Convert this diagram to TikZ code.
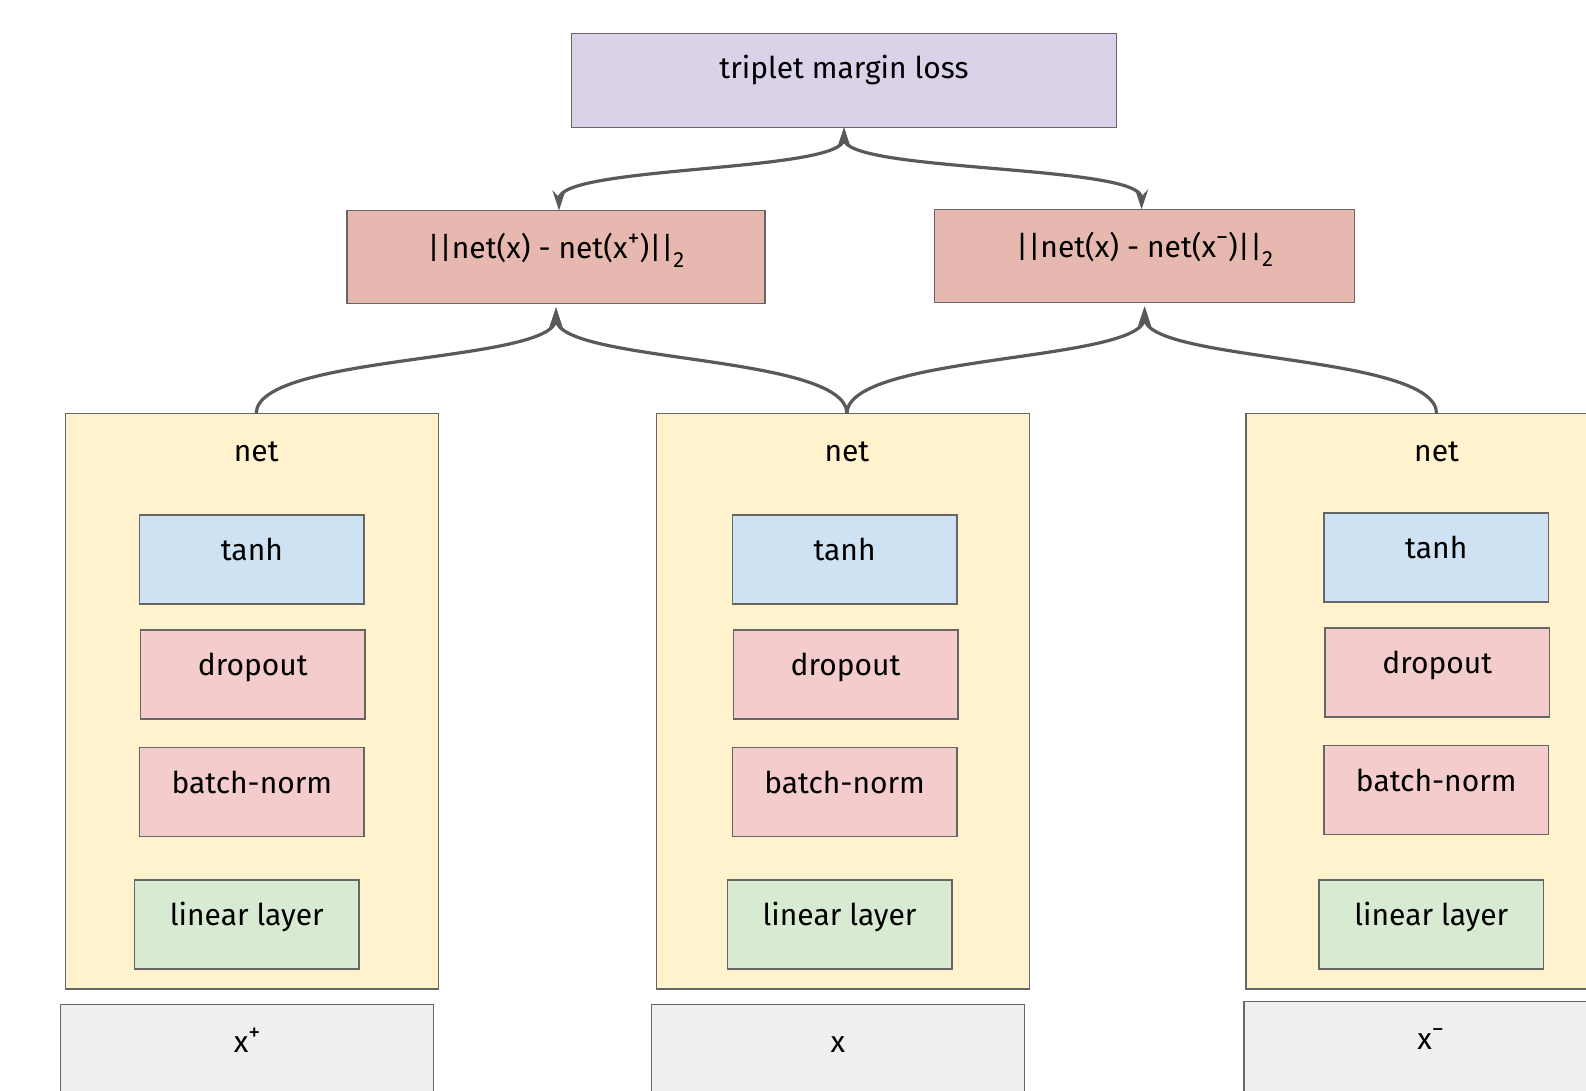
\documentclass[tikz,border=0pt]{standalone}
\usepackage{fontspec}
\setmainfont{Fira Sans}
\usetikzlibrary{arrows.meta,calc}
\definecolor{cPurple}{HTML}{D9D2E9}
\definecolor{cDist}{HTML}{E6B8AF}
\definecolor{cNet}{HTML}{FFF2CC}
\definecolor{cTanh}{HTML}{CFE2F3}
\definecolor{cPink}{HTML}{F4CCCC}
\definecolor{cLin}{HTML}{D9EAD3}
\definecolor{cIn}{HTML}{EFEFEF}
\definecolor{cBorder}{HTML}{666666}
\definecolor{cArrow}{HTML}{595959}
\newcommand\mkbox[7]{%
  \node[box, fill=#2, minimum width=#5, minimum height=#6] (#1) at (#3,#4) {};
  \node[lbl] (#1t) at ($(#1.north)+(0,38)$) {#7};}
\newcommand\mysup[1]{\raisebox{0.42em}{\fontsize{24}{26}\selectfont #1}}
\newcommand\mysub[1]{\raisebox{-0.3em}{\fontsize{22}{24}\selectfont #1}}
\begin{document}
\begin{tikzpicture}[x=1pt,y=-1pt,
  box/.style={draw=cBorder, line width=1.5pt, inner sep=0pt, outer sep=0pt, anchor=north west},
  lbl/.style={font=\fontsize{30}{36}\selectfont, text=black, inner sep=0pt, anchor=center, text height=21pt, text depth=6pt},
  conn/.style={draw=cArrow, line width=3.2pt},
  mytip/.tip={Stealth[length=20pt,width=13pt,inset=7pt]}]
\useasboundingbox (0,0) rectangle (1586,1091);
\clip (0,0) rectangle (1586,1091);
\fill[white] (0,0) rectangle (1586,1091);
% top loss
\mkbox{loss}{cPurple}{571.5}{33.4}{545}{94}{triplet margin loss}
% distance boxes
\node[box, fill=cDist, minimum width=418, minimum height=93] (dA) at (347,210.4) {};
\node[lbl] (dAt) at ($(dA.north)+(0,41)$) {||net(x) - net(x\mysup{+})||\mysub{2}};
\node[box, fill=cDist, minimum width=420, minimum height=93] (dB) at (934.6,209.4) {};
\node[lbl] (dBt) at ($(dB.north)+(0,41)$) {||net(x) - net(x\mysup{−})||\mysub{2}};
% net boxes
\node[box, fill=cNet, minimum width=373, minimum height=575.5] (nA) at (65.7,413.7) {};
\node[lbl] (nAt) at ($(nA.north)+(4,40)$) {net};
\node[box, fill=cNet, minimum width=373, minimum height=575.5] (nB) at (656.4,413.7) {};
\node[lbl] (nBt) at ($(nB.north)+(4,40)$) {net};
\node[box, fill=cNet, minimum width=373, minimum height=575.5] (nC) at (1246.1,413.7) {};
\node[lbl] (nCt) at ($(nC.north)+(4,40)$) {net};
% left column
\mkbox{tA}{cTanh}{139.6}{514.8}{224.5}{89}{tanh}
\mkbox{oA}{cPink}{140.6}{630.1}{224.5}{89}{dropout}
\mkbox{bA}{cPink}{139.6}{747.5}{224.5}{89}{batch-norm}
\mkbox{lA}{cLin}{134.5}{880}{224.5}{89}{linear layer}
% middle column
\mkbox{tB}{cTanh}{732.3}{514.8}{224.5}{89}{tanh}
\mkbox{oB}{cPink}{733.3}{630.1}{224.5}{89}{dropout}
\mkbox{bB}{cPink}{732.3}{747.5}{224.5}{89}{batch-norm}
\mkbox{lB}{cLin}{727.3}{880}{224.5}{89}{linear layer}
% right column
\mkbox{tC}{cTanh}{1324}{512.8}{224.5}{89}{tanh}
\mkbox{oC}{cPink}{1325}{628.1}{224.5}{89}{dropout}
\mkbox{bC}{cPink}{1324}{745.5}{224.5}{89}{batch-norm}
\mkbox{lC}{cLin}{1319}{880}{224.5}{89}{linear layer}
% inputs
\node[box, fill=cIn, minimum width=373, minimum height=150] (iA) at (60.7,1004.4) {};
\node[lbl] (iAt) at ($(iA.north)+(0,41)$) {x\mysup{+}};
\node[box, fill=cIn, minimum width=373, minimum height=150] (iB) at (651.4,1004.4) {};
\node[lbl] (iBt) at ($(iB.north)+(0,41)$) {x};
\node[box, fill=cIn, minimum width=373, minimum height=150] (iC) at (1244.2,1001.4) {};
\node[lbl] (iCt) at ($(iC.north)+(0,41)$) {x\mysup{−}};
% connectors net -> distance
\coordinate (pA) at (nA.north -| nAt);
\coordinate (pB) at (nB.north -| nBt);
\coordinate (pC) at (nC.north -| nCt);
\draw[conn, -{mytip}, shorten >=4pt] (pA) .. controls +(0,-60) and +(0,60) .. (dA.south);
\draw[conn, -{mytip}, shorten >=4pt] (pB) .. controls +(0,-60) and +(0,60) .. (dA.south);
\draw[conn, -{mytip}, shorten >=4pt] (pB) .. controls +(0,-60) and +(0,60) .. (dB.south);
\draw[conn, -{mytip}, shorten >=4pt] (pC) .. controls +(0,-60) and +(0,60) .. (dB.south);
% connectors distance <-> loss
\draw[conn, {mytip}-{mytip}] ($(dA.north)+(3,0)$) .. controls +(0,-45) and +(0,45) .. (loss.south);
\draw[conn, {mytip}-{mytip}] ($(dB.north)+(-3,0)$) .. controls +(0,-45) and +(0,45) .. (loss.south);
\end{tikzpicture}
\end{document}
